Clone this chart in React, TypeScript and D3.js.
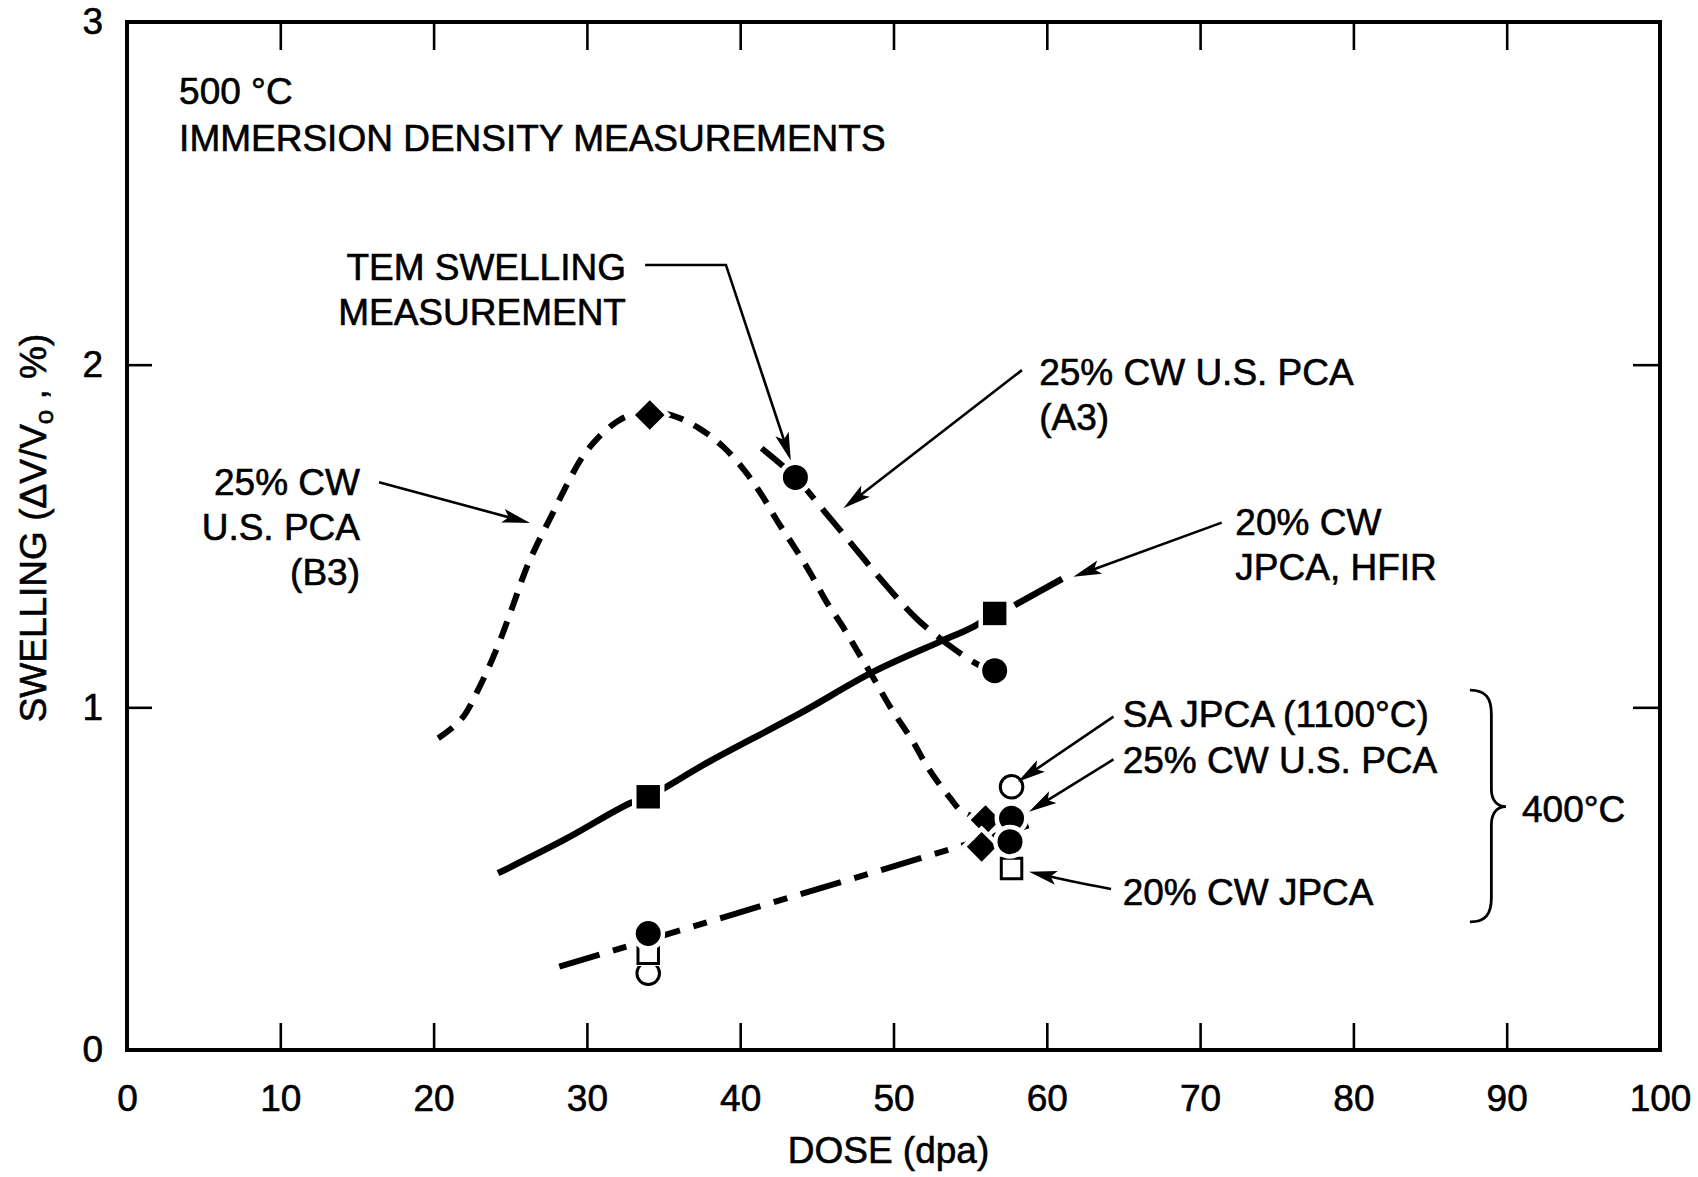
import React, { useRef, useEffect } from "react";
import * as d3 from "d3";

// chart box inside the 1698x1177 picture
const W = 1698;
const H = 1177;
const X0 = 127;
const X1 = 1660;
const Y0 = 1050;
const Y1 = 22;
const FONT = "'Liberation Sans', Arial, Helvetica, sans-serif";

const doseTicks = [0, 10, 20, 30, 40, 50, 60, 70, 80, 90, 100];
const swellingTicks = [0, 1, 2, 3];

// 500°C, 25% CW U.S. PCA (B3) - short dashed curve
const b3Dose = [20.3, 21.8, 23.0, 24.2, 25.2, 26.0, 26.8, 27.7, 28.7, 29.7, 30.8, 32.0, 33.0, 34.1, 35.5, 37.4, 38.9, 40.3, 41.4, 42.4, 43.5, 44.6, 45.6, 46.7, 47.7, 48.7, 49.8, 51.2, 52.3, 53.7, 54.5, 56.0];
const b3Swelling = [0.91, 0.965, 1.06, 1.18, 1.3, 1.4, 1.48, 1.56, 1.65, 1.73, 1.79, 1.835, 1.855, 1.857, 1.853, 1.812, 1.76, 1.69, 1.62, 1.545, 1.47, 1.39, 1.31, 1.235, 1.16, 1.085, 1.0, 0.905, 0.82, 0.735, 0.695, 0.671];

// 500°C, 25% CW U.S. PCA (A3) - long dashed curve
const a3Dose = [41.4, 43.6, 45.6, 47.5, 49.4, 51.6, 53.9, 55.6, 56.6];
const a3Swelling = [1.756, 1.671, 1.566, 1.464, 1.362, 1.255, 1.172, 1.123, 1.107];

// 500°C, 20% CW JPCA, HFIR - solid line + one dash past the last point
const hfirDose = [24.2, 28.5, 32.8, 34.0, 37.8, 43.8, 48.7, 53.0, 55.2, 56.6];
const hfirSwelling = [0.516, 0.613, 0.72, 0.739, 0.837, 0.98, 1.104, 1.191, 1.235, 1.274];
const hfirTailDose = [57.9, 61.0];
const hfirTailSwelling = [1.298, 1.375];

// 400°C trend - dash-dot line
const trend400Dose = [28.2, 42.3, 53.8, 59.6];
const trend400Swelling = [0.243, 0.433, 0.587, 0.666];

// point markers
const diamondDose = [34.1, 56.0, 55.75];
const diamondSwelling = [1.853, 0.671, 0.593];
const squareDose = [34.0, 56.6];
const squareSwelling = [0.739, 1.274];
const ringDose = [34.0, 57.7];
const ringSwelling = [0.224, 0.768];
const boxDose = [34.0, 57.7];
const boxSwelling = [0.282, 0.53];
const dotDose = [43.6, 56.6, 34.0, 57.7, 57.6];
const dotSwelling = [1.671, 1.107, 0.34, 0.676, 0.608];

// text notes, placed in data units
const notes = [
  { lines: ["500 °C", "IMMERSION DENSITY MEASUREMENTS"], at: [3.4, 2.76], anchor: "start", gap: 0.137 },
  { lines: ["TEM SWELLING", "MEASUREMENT"], at: [32.55, 2.248], anchor: "end", gap: 0.132 },
  { lines: ["25% CW U.S. PCA", "(A3)"], at: [59.5, 1.94], anchor: "start", gap: 0.131 },
  { lines: ["25% CW", "U.S. PCA", "(B3)"], at: [15.2, 1.619], anchor: "end", gap: 0.131 },
  { lines: ["20% CW", "JPCA, HFIR"], at: [72.3, 1.503], anchor: "start", gap: 0.132 },
  { lines: ["SA JPCA (1100°C)", "25% CW U.S. PCA"], at: [64.95, 0.943], anchor: "start", gap: 0.135 },
  { lines: ["20% CW JPCA"], at: [64.95, 0.423], anchor: "start", gap: 0 },
  { lines: ["400°C"], at: [91.0, 0.665], anchor: "start", gap: 0 }
];

// leader arrows, last point is the tip
const arrows = [
  [[33.8, 2.291], [39.07, 2.291], [43.3, 1.72]],
  [[58.38, 1.984], [46.73, 1.581]],
  [[16.44, 1.657], [26.29, 1.538]],
  [[71.41, 1.539], [61.73, 1.381]],
  [[64.35, 0.973], [58.11, 0.783]],
  [[64.35, 0.848], [58.84, 0.695]],
  [[64.19, 0.47], [62.17, 0.487], [58.84, 0.52]]
];

const App = () => {
  const axesRef = useRef(null);

  const x = d3.scaleLinear().domain([0, 100]).range([X0, X1]);
  const y = d3.scaleLinear().domain([0, 3]).range([Y0, Y1]);

  useEffect(() => {
    const g = d3.select(axesRef.current);
    g.selectAll("*").remove();

    g.append("g")
      .attr("transform", `translate(0,${Y0})`)
      .call(d3.axisBottom(x).tickValues(doseTicks).tickSize(-27).tickPadding(35).tickFormat(d3.format("d")));
    g.append("g")
      .attr("transform", `translate(0,${Y1})`)
      .call(d3.axisTop(x).tickValues(doseTicks).tickSize(-28).tickFormat(() => ""));
    g.append("g")
      .attr("transform", `translate(${X0},0)`)
      .call(d3.axisLeft(y).tickValues(swellingTicks).tickSize(-25).tickPadding(24).tickFormat(d3.format("d")));
    g.append("g")
      .attr("transform", `translate(${X1},0)`)
      .call(d3.axisRight(y).tickValues([1, 2]).tickSize(-27).tickFormat(() => ""));

    g.selectAll(".domain").remove();
    g.selectAll(".tick line").attr("stroke", "#000").attr("stroke-width", 2.6);
    g.selectAll(".tick text")
      .attr("font-size", 37)
      .attr("font-family", FONT)
      .attr("fill", "#000")
      .attr("stroke", "#000")
      .attr("stroke-width", 0.6);
  }, []);

  const line = d3.line().x(d => x(d[0])).y(d => y(d[1]));
  const smooth = d3.line().x(d => x(d[0])).y(d => y(d[1])).curve(d3.curveCatmullRom.alpha(0.5));

  const b3 = d3.zip(b3Dose, b3Swelling);
  const a3 = d3.zip(a3Dose, a3Swelling);
  const hfir = d3.zip(hfirDose, hfirSwelling);
  const hfirTail = d3.zip(hfirTailDose, hfirTailSwelling);
  const trend400 = d3.zip(trend400Dose, trend400Swelling);

  const sym = (type, size) => d3.symbol().type(type).size(size)();

  const marker = (key, dx, sy, type, size, filled, rot = 0) => {
    const tr = `translate(${x(dx)},${y(sy)}) rotate(${rot})`;
    const p = sym(type, size);
    return (
      <g key={key} transform={tr}>
        <path d={p} fill="#fff" stroke="#fff" strokeWidth={filled ? 9 : 5} />
        <path d={p} fill={filled ? "#000" : "#fff"} stroke="#000" strokeWidth={filled ? 0 : 3} />
      </g>
    );
  };

  const arrowEls = arrows.map((pts, i) => {
    const px = pts.map(p => [x(p[0]), y(p[1])]);
    const tip = px[px.length - 1];
    const prev = px[px.length - 2];
    const ang = Math.atan2(tip[1] - prev[1], tip[0] - prev[0]);
    const shaft = px.slice(0, -1);
    shaft.push([tip[0] - 14 * Math.cos(ang), tip[1] - 14 * Math.sin(ang)]);
    const shaftPath = i === 6 ? d3.line().curve(d3.curveBasis)(shaft) : d3.line()(shaft);
    return (
      <g key={"a" + i}>
        <path d={shaftPath} fill="none" stroke="#000" strokeWidth={2.6} />
        <path
          d="M0,0 L-28,-7 L-22,0 L-28,7 Z"
          transform={`translate(${tip[0]},${tip[1]}) rotate(${(ang * 180) / Math.PI})`}
          fill="#000"
        />
      </g>
    );
  });

  // brace for the 400°C group
  const bx = x(87.6);
  const bm = x(89.0);
  const bt = x(89.95);
  const byTop = y(1.05);
  const byMid = y(0.71);
  const byBot = y(0.374);
  const brace = `M${bx},${byTop} C${bx + 16},${byTop} ${bm},${byTop + 8} ${bm},${byTop + 24}
    L${bm},${byMid - 18} C${bm},${byMid - 6} ${bm + 6},${byMid} ${bt},${byMid}
    C${bm + 6},${byMid} ${bm},${byMid + 6} ${bm},${byMid + 18}
    L${bm},${byBot - 24} C${bm},${byBot - 8} ${bx + 16},${byBot} ${bx},${byBot}`;

  return (
    <svg
      width={W}
      height={H}
      viewBox={`0 0 ${W} ${H}`}
      style={{ position: "absolute", left: 0, top: 0, background: "#fff" }}
      fontFamily={FONT}
    >
      <rect x={X0} y={Y1} width={X1 - X0} height={Y0 - Y1} fill="none" stroke="#000" strokeWidth={4} />
      <g ref={axesRef} />

      {/* curves */}
      <path d={smooth(b3)} fill="none" stroke="#000" strokeWidth={6} strokeDasharray="18 12" />
      <path d={smooth(a3)} fill="none" stroke="#000" strokeWidth={6} strokeDasharray="30 13" />
      <path d={smooth(hfir)} fill="none" stroke="#000" strokeWidth={6.5} />
      <path d={line(hfirTail)} fill="none" stroke="#000" strokeWidth={6.5} />
      <path d={line(trend400)} fill="none" stroke="#000" strokeWidth={6} strokeDasharray="42 14 14 14" />

      {/* markers */}
      {diamondDose.map((d, i) => marker("dm" + i, d, diamondSwelling[i], d3.symbolSquare, 440, true, 45))}
      {squareDose.map((d, i) => marker("sq" + i, d, squareSwelling[i], d3.symbolSquare, 550, true))}
      {ringDose.map((d, i) => marker("rg" + i, d, ringSwelling[i], d3.symbolCircle, 400, false))}
      {boxDose.map((d, i) => marker("bx" + i, d, boxSwelling[i], d3.symbolSquare, 420, false))}
      {dotDose.map((d, i) => marker("dt" + i, d, dotSwelling[i], d3.symbolCircle, 490, true))}

      {arrowEls}
      <path d={brace} fill="none" stroke="#000" strokeWidth={2.8} />

      {/* notes */}
      <g fill="#000" stroke="#000" strokeWidth={0.6}>
        {notes.map((n, i) => (
          <text key={"n" + i} fontSize={37} textAnchor={n.anchor}>
            {n.lines.map((t, j) => (
              <tspan key={j} x={x(n.at[0])} y={y(n.at[1] - j * n.gap)}>
                {t}
              </tspan>
            ))}
          </text>
        ))}

        {/* axis titles */}
        <text x={(X0 + X1) / 2 - 5} y={1163} fontSize={37} textAnchor="middle">
          DOSE (dpa)
        </text>
        <text transform="translate(46,528) rotate(-90)" fontSize={37} textAnchor="middle">
          SWELLING (ΔV/V
          <tspan fontSize={26} dy={7}>o</tspan>
          <tspan dy={-7}> , %)</tspan>
        </text>
      </g>
    </svg>
  );
};

export default App;
